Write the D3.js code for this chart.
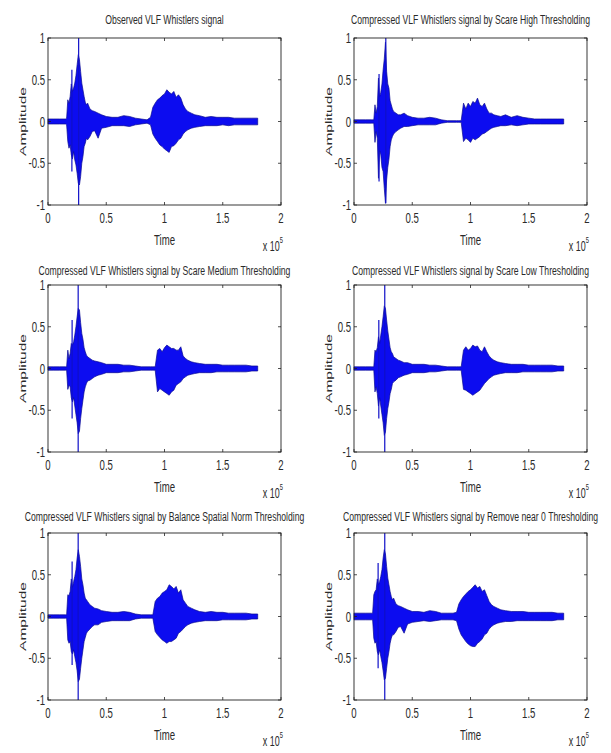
<!DOCTYPE html>
<html>
<head>
<meta charset="utf-8">
<script src="https://cdn.jsdelivr.net/npm/d3@7/dist/d3.min.js"></script>
<style>
  body { margin: 0; background: #fff; }
  svg text { font-family: "Liberation Sans", Arial, sans-serif; fill: #2a2a2a; }
</style>
</head>
<body>
<svg id="chart" width="611" height="753"></svg>
<script>
// sample times (x 10^5), denser inside the two whistler bursts
const time = [
  0, 0.05, 0.10, 0.15,
  0.16, 0.17, 0.18, 0.19, 0.20, 0.21, 0.22, 0.23, 0.24, 0.25, 0.26, 0.27, 0.28, 0.29, 0.30, 0.31, 0.32, 0.33, 0.34,
  0.36, 0.38, 0.40, 0.43, 0.46, 0.50, 0.55, 0.60, 0.65, 0.70, 0.75, 0.80, 0.85,
  0.88, 0.90, 0.92, 0.94, 0.96, 0.98, 1.00, 1.02, 1.04, 1.06, 1.08, 1.10, 1.12, 1.14, 1.16, 1.18, 1.20,
  1.23, 1.26, 1.30, 1.35, 1.40, 1.45, 1.50, 1.55, 1.60, 1.65, 1.70, 1.75, 1.80
];

const titles = [
  "Observed VLF Whistlers signal",
  "Compressed VLF Whistlers signal by Scare High Thresholding",
  "Compressed VLF Whistlers signal by Scare Medium Thresholding",
  "Compressed VLF Whistlers signal by Scare Low Thresholding",
  "Compressed VLF Whistlers signal by Balance Spatial Norm Thresholding",
  "Compressed VLF Whistlers signal by Remove near 0 Thresholding"
];

const xTicks = [0, 0.5, 1, 1.5, 2];
const yTicks = [-1, -0.5, 0, 0.5, 1];

// upper / lower envelope of each signal
const observedHi = [
  .03, .03, .03, .03,
  .04, .26, .22, .30, .45, .36, .40, .46, .55, .68, .80, .74, .60, .46, .38, .30, .23, .20, .22,
  .15, .13, .12, .10, .08, .06, .05, .05, .07, .06, .04, .03, .02,
  .05, .17, .22, .26, .28, .31, .33, .38, .35, .33, .36, .29, .32, .28, .20, .15, .12,
  .10, .08, .07, .05, .06, .05, .05, .05, .04, .04, .04, .04, .04
];
const observedLo = [
  -.03, -.03, -.03, -.03,
  -.04, -.24, -.32, -.28, -.40, -.45, -.36, -.46, -.52, -.62, -.74, -.76, -.66, -.50, -.42, -.30, -.26, -.20, -.22,
  -.18, -.12, -.11, -.20, -.08, -.07, -.05, -.05, -.05, -.06, -.04, -.03, -.02,
  -.04, -.15, -.20, -.24, -.28, -.30, -.33, -.35, -.37, -.30, -.29, -.26, -.22, -.20, -.15, -.12, -.10,
  -.08, -.07, -.06, -.05, -.05, -.05, -.04, -.05, -.04, -.04, -.04, -.04, -.04
];

const highHi = [
  .02, .02, .02, .02,
  .02, .02, .20, .10, .18, .52, .30, .35, .45, .62, .75, .95, .60, .45, .40, .25, .20, .15, .12,
  .10, .08, .08, .10, .07, .05, .04, .04, .05, .04, .02, .01, .01,
  .01, .01, .01, .22, .15, .22, .18, .24, .22, .28, .20, .18, .22, .15, .10, .10, .08,
  .07, .06, .08, .05, .07, .05, .04, .03, .03, .03, .03, .03, .03
];
const highLo = [
  -.02, -.02, -.02, -.02,
  -.02, -.02, -.25, -.12, -.20, -.68, -.35, -.40, -.55, -.60, -.80, -.98, -.70, -.55, -.45, -.30, -.22, -.18, -.15,
  -.12, -.10, -.08, -.06, -.06, -.05, -.04, -.04, -.04, -.04, -.02, -.01, -.01,
  -.01, -.01, -.01, -.24, -.20, -.22, -.25, -.20, -.22, -.20, -.18, -.15, -.14, -.12, -.10, -.08, -.07,
  -.06, -.05, -.05, -.04, -.05, -.04, -.03, -.03, -.03, -.03, -.03, -.03, -.03
];

const mediumHi = [
  .02, .02, .02, .02,
  .02, .22, .12, .18, .30, .28, .32, .40, .50, .62, .72, .70, .55, .42, .35, .25, .20, .16, .14,
  .12, .10, .09, .08, .07, .05, .05, .05, .04, .04, .03, .02, .02,
  .02, .02, .02, .22, .24, .20, .25, .28, .26, .24, .24, .22, .22, .26, .15, .12, .10,
  .08, .07, .06, .05, .05, .05, .04, .04, .04, .04, .04, .03, .03
];
const mediumLo = [
  -.02, -.02, -.02, -.02,
  -.02, -.25, -.20, -.22, -.35, -.40, -.35, -.45, -.55, -.65, -.78, -.75, -.60, -.48, -.38, -.28, -.22, -.18, -.15,
  -.14, -.12, -.10, -.08, -.07, -.05, -.05, -.05, -.04, -.04, -.03, -.02, -.02,
  -.02, -.02, -.02, -.28, -.24, -.26, -.28, -.30, -.32, -.28, -.26, -.20, -.18, -.16, -.12, -.10, -.08,
  -.07, -.06, -.05, -.05, -.05, -.04, -.04, -.04, -.04, -.04, -.04, -.03, -.03
];

const lowHi = [
  .02, .02, .02, .02,
  .02, .02, .22, .20, .25, .38, .30, .40, .50, .62, .75, .72, .58, .45, .35, .25, .20, .18, .14,
  .12, .10, .09, .07, .07, .05, .05, .05, .04, .04, .03, .02, .02,
  .02, .02, .02, .22, .26, .22, .24, .28, .26, .27, .22, .20, .26, .20, .15, .12, .10,
  .08, .07, .06, .05, .05, .05, .04, .04, .04, .04, .04, .03, .03
];
const lowLo = [
  -.02, -.02, -.02, -.02,
  -.02, -.02, -.28, -.22, -.30, -.45, -.35, -.45, -.55, -.65, -.80, -.76, -.60, -.48, -.40, -.30, -.25, -.18, -.16,
  -.14, -.11, -.10, -.08, -.07, -.05, -.05, -.05, -.04, -.04, -.03, -.02, -.02,
  -.02, -.02, -.02, -.25, -.26, -.28, -.30, -.32, -.30, -.28, -.26, -.22, -.18, -.15, -.12, -.10, -.08,
  -.07, -.06, -.05, -.05, -.05, -.04, -.04, -.04, -.04, -.04, -.04, -.03, -.03
];

const balanceHi = [
  .02, .02, .02, .02,
  .02, .26, .25, .30, .45, .35, .42, .48, .56, .70, .80, .72, .60, .45, .38, .28, .22, .20, .18,
  .14, .12, .10, .09, .07, .06, .05, .05, .06, .05, .03, .02, .02,
  .02, .02, .18, .22, .24, .28, .30, .32, .38, .36, .33, .36, .28, .32, .20, .16, .12,
  .10, .08, .06, .05, .06, .05, .05, .04, .04, .04, .04, .03, .03
];
const balanceLo = [
  -.02, -.02, -.02, -.02,
  -.02, -.28, -.32, -.30, -.42, -.45, -.40, -.48, -.55, -.65, -.78, -.75, -.62, -.50, -.40, -.30, -.25, -.20, -.18,
  -.15, -.12, -.10, -.10, -.07, -.06, -.05, -.05, -.05, -.05, -.03, -.02, -.02,
  -.02, -.02, -.18, -.22, -.25, -.28, -.30, -.32, -.30, -.30, -.28, -.26, -.20, -.18, -.15, -.12, -.10,
  -.08, -.07, -.06, -.05, -.05, -.05, -.04, -.04, -.04, -.04, -.04, -.03, -.03
];

const removeHi = [
  .04, .04, .04, .04,
  .04, .26, .30, .32, .45, .38, .42, .48, .56, .70, .80, .75, .60, .46, .38, .30, .24, .20, .22,
  .15, .13, .12, .10, .08, .06, .06, .05, .07, .06, .04, .04, .04,
  .05, .15, .20, .24, .27, .30, .32, .35, .38, .34, .36, .30, .32, .25, .18, .14, .12,
  .10, .08, .07, .06, .06, .06, .05, .05, .05, .05, .05, .04, .04
];
const removeLo = [
  -.04, -.04, -.04, -.04,
  -.04, -.26, -.32, -.30, -.42, -.46, -.40, -.48, -.55, -.65, -.76, -.74, -.62, -.50, -.42, -.32, -.26, -.22, -.22,
  -.18, -.13, -.12, -.20, -.09, -.07, -.06, -.05, -.06, -.05, -.04, -.04, -.04,
  -.05, -.15, -.22, -.26, -.30, -.33, -.35, -.36, -.36, -.32, -.30, -.27, -.22, -.20, -.15, -.12, -.10,
  -.08, -.07, -.06, -.06, -.05, -.05, -.05, -.05, -.05, -.05, -.05, -.04, -.04
];

// single tall spikes that stick out of the envelope
const spikeTimes = [[0.205, 0.263], [0.215, 0.273], [0.207, 0.259], [0.213, 0.264], [0.207, 0.259], [0.207, 0.264]];
const spikeHi = [[0.62, 1.0], [0.57, 1.0], [0.58, 1.0], [0.58, 1.0], [0.66, 1.0], [0.64, 1.0]];
const spikeLo = [[-0.60, -1.0], [-0.72, -0.98], [-0.60, -1.0], [-0.60, -1.0], [-0.58, -1.0], [-0.62, -1.0]];

const envHi = [observedHi, highHi, mediumHi, lowHi, balanceHi, removeHi];
const envLo = [observedLo, highLo, mediumLo, lowLo, balanceLo, removeLo];

// layout
const colLeft = [48, 354];
const rowTop = [38, 285, 533];
const titleY = [24, 275, 521];
const plotW = 233;
const plotH = 167;
const squeeze = 0.64;

const svg = d3.select("#chart");

function squeezedText(g, x, y, str, size, anchor) {
  return g.append("text")
    .attr("transform", `translate(${x},${y}) scale(${squeeze},1)`)
    .attr("text-anchor", anchor || "middle")
    .attr("font-size", size)
    .text(str);
}

function drawPanel(i) {
  const left = colLeft[i % 2];
  const top = rowTop[Math.floor(i / 2)];
  const g = svg.append("g").attr("transform", `translate(${left},${top})`);

  const x = d3.scaleLinear().domain([0, 2]).range([0, plotW]);
  const y = d3.scaleLinear().domain([-1, 1]).range([plotH, 0]);

  const hi = envHi[i];
  const lo = envLo[i];
  const pts = time.map((t, k) => ({ t: t, hi: hi[k], lo: lo[k] }));

  const area = d3.area()
    .x(d => x(d.t))
    .y0(d => y(d.lo))
    .y1(d => y(d.hi));

  g.append("path")
    .datum(pts)
    .attr("d", area)
    .attr("fill", "#0c0cf0")
    .attr("stroke", "#0a0a90")
    .attr("stroke-width", 0.7)
    .attr("stroke-linejoin", "round");

  g.selectAll(".spike")
    .data(spikeTimes[i].map((t, k) => ({ t: t, hi: spikeHi[i][k], lo: spikeLo[i][k] })))
    .join("line")
    .attr("class", "spike")
    .attr("x1", d => x(d.t)).attr("x2", d => x(d.t))
    .attr("y1", d => y(d.hi)).attr("y2", d => y(d.lo))
    .attr("stroke", "#1010c8")
    .attr("stroke-width", 1.2);

  // box with inward ticks on all sides (matlab style)
  g.append("rect")
    .attr("width", plotW).attr("height", plotH)
    .attr("fill", "none").attr("stroke", "#222").attr("stroke-width", 0.9);

  const tl = 3;
  g.selectAll(".xt")
    .data(xTicks)
    .join("path")
    .attr("class", "xt")
    .attr("d", d => `M${x(d)},${plotH}v${-tl}M${x(d)},0v${tl}`)
    .attr("stroke", "#222").attr("stroke-width", 0.8);
  g.selectAll(".yt")
    .data(yTicks)
    .join("path")
    .attr("class", "yt")
    .attr("d", d => `M0,${y(d)}h${tl}M${plotW},${y(d)}h${-tl}`)
    .attr("stroke", "#222").attr("stroke-width", 0.8);

  xTicks.forEach(d => squeezedText(g, x(d), plotH + 18, d, 15));
  yTicks.forEach(d => squeezedText(g, -3, y(d) + 5, d, 15, "end"));

  squeezedText(g, plotW / 2, plotH + 40, "Time", 15);
  const ex = g.append("text")
    .attr("transform", `translate(${plotW + 2},${plotH + 46}) scale(${squeeze},1)`)
    .attr("text-anchor", "end")
    .attr("font-size", 14)
    .text("x 10");
  ex.append("tspan").attr("dy", -8).attr("font-size", 9).text("5");

  g.append("text")
    .attr("transform", `translate(${-22},${plotH / 2}) scale(${squeeze},1) rotate(-90)`)
    .attr("text-anchor", "middle")
    .attr("font-size", 15.5)
    .text("Amplitude");

  squeezedText(svg, left + plotW / 2, titleY[Math.floor(i / 2)], titles[i], 13.5);
}

titles.forEach((t, i) => drawPanel(i));
</script>
</body>
</html>
